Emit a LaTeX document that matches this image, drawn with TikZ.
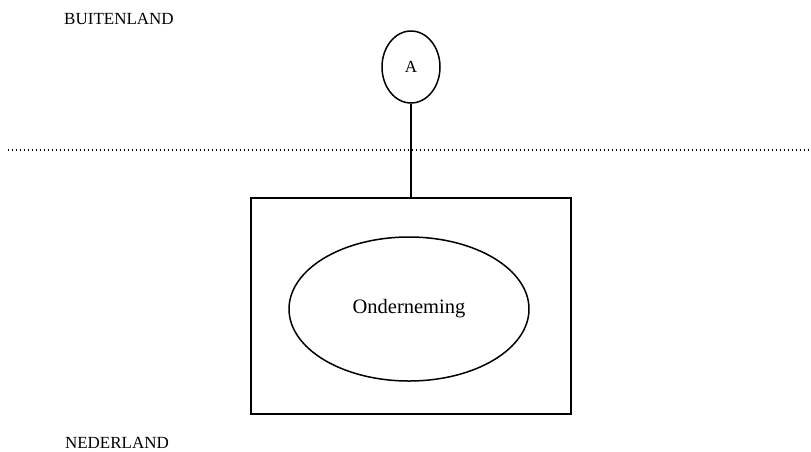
\documentclass[tikz,border=0pt]{standalone}
\usepackage{fontspec}
\setmainfont{Liberation Serif}
\usetikzlibrary{shapes.geometric}
\begin{document}
\begin{tikzpicture}[x=1pt,y=-1pt,
  line width=1.5pt,
  lbl/.style={font=\fontsize{17}{20}\selectfont, inner sep=0pt},
  oval/.style={draw, ellipse, inner sep=0pt}]
\useasboundingbox (0,0) rectangle (811,451);
% region labels
\node[lbl] (buiten) at (119,19) {BUITENLAND};
\node[lbl] (neder) at (117,443) {NEDERLAND};
% border line between the two regions
\draw[line width=1.4pt, dash pattern=on 1.4pt off 2.6pt] (8,150) -- (811,150);
% foreign party
\node[oval, minimum width=58pt, minimum height=72pt, lbl] (a) at (411,67) {A};
% Dutch entity
\node[draw, minimum width=320pt, minimum height=216pt, inner sep=0pt] (box) at (411,306) {};
\node[oval, minimum width=240pt, minimum height=144pt, font=\fontsize{20.5}{24}\selectfont] (ond) at (409,309) {Onderneming};
\draw (a.south) -- (a.south |- box.north);
\end{tikzpicture}
\end{document}
